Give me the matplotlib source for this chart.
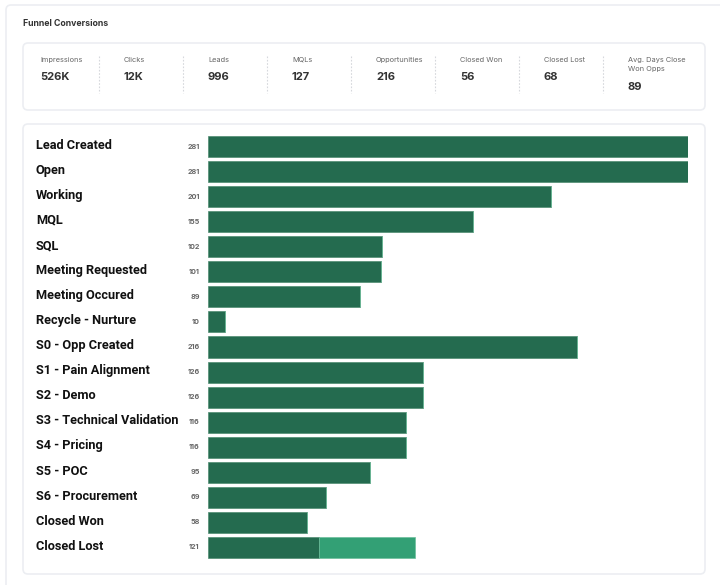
import matplotlib.pyplot as plt
from matplotlib.patches import FancyBboxPatch
from matplotlib.lines import Line2D

# KPI strip
kpi_labels = ['Impressions', 'Clicks', 'Leads', 'MQLs', 'Opportunities',
              'Closed Won', 'Closed Lost', 'Avg. Days Close\nWon Opps']
kpi_values = ['526K', '12K', '996', '127', '216', '56', '68', '89']

# funnel stages
stages = ['Lead Created', 'Open', 'Working', 'MQL', 'SQL', 'Meeting Requested',
          'Meeting Occured', 'Recycle - Nurture', 'S0 - Opp Created',
          'S1 - Pain Alignment', 'S2 - Demo', 'S3 - Technical Validation',
          'S4 - Pricing', 'S5 - POC', 'S6 - Procurement', 'Closed Won', 'Closed Lost']
counts = [281, 281, 201, 155, 102, 101, 89, 10, 216, 126, 126, 116, 116, 95, 69, 58, 121]
# Closed Lost bar is split in two parts
main_part = [281, 281, 201, 155, 102, 101, 89, 10, 216, 126, 126, 116, 116, 95, 69, 58, 65]
extra_part = [0, 0, 0, 0, 0, 0, 0, 0, 0, 0, 0, 0, 0, 0, 0, 0, 56]

W, H = 720, 585
DARK = '#246b4f'
LIGHT = '#33a075'
BORDER = '#eceef2'

fig = plt.figure(figsize=(W / 100, H / 100), dpi=100)
bg = fig.add_axes([0, 0, 1, 1])
bg.set_xlim(0, W)
bg.set_ylim(H, 0)
bg.axis('off')

def card(x0, y0, x1, y1):
    bg.add_patch(FancyBboxPatch((x0, y0), x1 - x0, y1 - y0,
                                boxstyle='round,pad=0,rounding_size=5',
                                facecolor='white', edgecolor=BORDER, lw=1.2))

card(6, 5, 740, 620)
card(23, 43, 705, 110)
card(23, 124, 705, 574)

bg.text(23, 24, 'Funnel Conversions', fontsize=6.3, fontweight='bold',
        color='#333333', va='center', ha='left', family='Inter')

for i, (lab, val) in enumerate(zip(kpi_labels, kpi_values)):
    x = 40 + i * 84
    bg.text(x, 57, lab, fontsize=5.3, color='#666666', va='top', ha='left',
            family='Inter', linespacing=1.5)
    vy = 87 if '\n' in lab else 77.5
    bg.text(x, vy, val, fontsize=8.0, fontweight='bold', color='#333333',
            va='center', ha='left', family='Inter')
    if i > 0:
        bg.add_line(Line2D([x - 25, x - 25], [56, 93], color='#d6d8dc',
                           lw=0.8, ls=(0, (1.5, 1.5))))

# bar chart axes, placed in pixels
left, right, top, bottom = 208, 688, 134, 560
ax = fig.add_axes([left / W, 1 - bottom / H, (right - left) / W, (bottom - top) / H])
ax.set_xlim(0, 281)
ax.set_ylim(len(stages) - 0.5, -0.5)
ax.axis('off')

ypos = list(range(len(stages)))
ax.barh(ypos, main_part, height=0.84, color=DARK, edgecolor='#4f8c72', lw=0.5)
ax.barh(ypos, extra_part, left=main_part, height=0.84, color=LIGHT,
        edgecolor='#6cbf9c', lw=0.5)

lab_x = (36 - left) / (right - left)
for y, name, c in zip(ypos, stages, counts):
    ax.text(lab_x, y - 0.05, name, transform=ax.get_yaxis_transform(), fontsize=9.2,
            fontweight='bold', color='#111111', va='center', ha='left', family='Roboto')
    ax.annotate(str(c), (0, y), xytext=(-6, 0), textcoords='offset points',
                fontsize=5.2, fontweight='bold', color='#666666',
                va='center', ha='right', family='Inter')

fig.savefig('out.png', dpi=100)
